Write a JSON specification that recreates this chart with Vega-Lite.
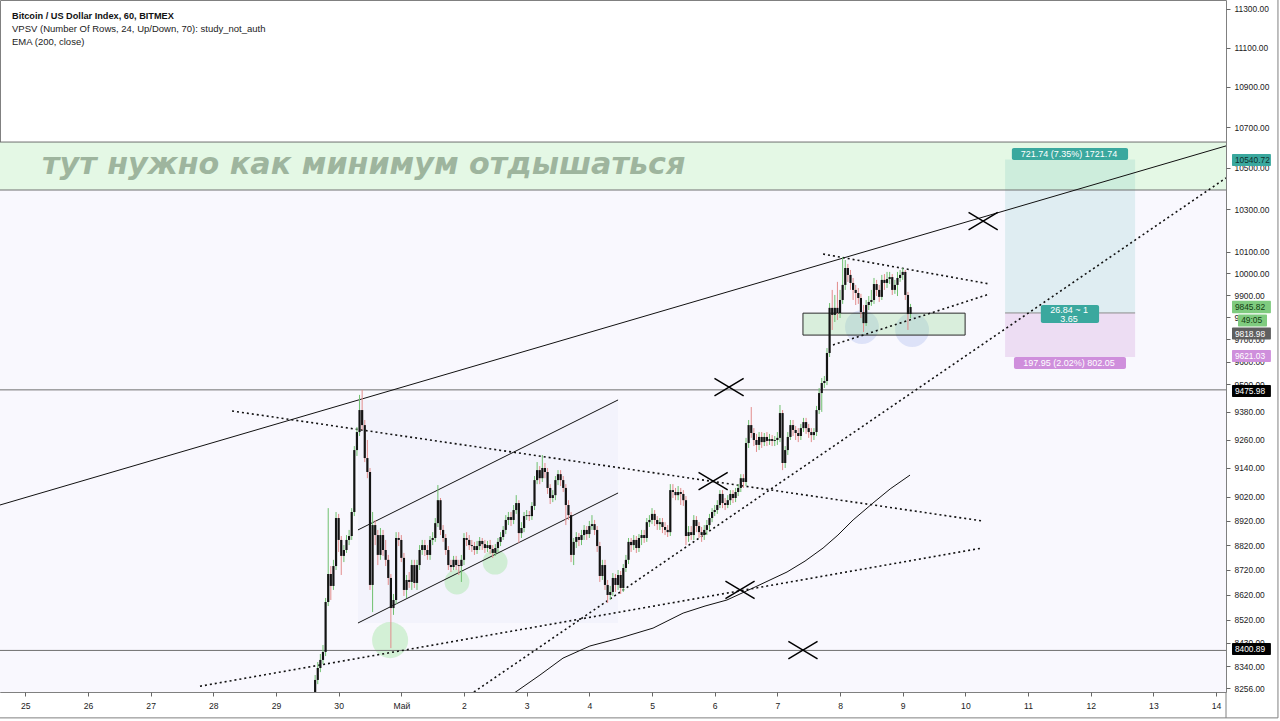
{
"$schema":"https://vega.github.io/schema/vega-lite/v6.json",
"width":1226,"height":692,
"autosize":{"type":"none"},
"padding":{"left":0,"top":0,"right":54,"bottom":29},
"background":"#ffffff",
"config":{"view":{"stroke":"#808080","fill":"#ffffff"}},
"datasets":{
"candles":[
{"t":"2020-04-29T15:00Z","o":8191,"h":8306,"l":8165,"c":8287},
{"t":"2020-04-29T16:00Z","o":8287,"h":8356,"l":8271,"c":8333},
{"t":"2020-04-29T17:00Z","o":8333,"h":8387,"l":8317,"c":8364},
{"t":"2020-04-29T18:00Z","o":8364,"h":8422,"l":8348,"c":8395},
{"t":"2020-04-29T19:00Z","o":8395,"h":8607,"l":8379,"c":8591},
{"t":"2020-04-29T20:00Z","o":8591,"h":8972,"l":8575,"c":8703},
{"t":"2020-04-29T21:00Z","o":8703,"h":8735,"l":8599,"c":8655},
{"t":"2020-04-29T22:00Z","o":8655,"h":8760,"l":8639,"c":8735},
{"t":"2020-04-29T23:00Z","o":8735,"h":8956,"l":8719,"c":8931},
{"t":"2020-04-30T00:00Z","o":8931,"h":8948,"l":8792,"c":8841},
{"t":"2020-04-30T01:00Z","o":8841,"h":8857,"l":8699,"c":8776},
{"t":"2020-04-30T02:00Z","o":8776,"h":8820,"l":8751,"c":8800},
{"t":"2020-04-30T03:00Z","o":8800,"h":8861,"l":8788,"c":8841},
{"t":"2020-04-30T04:00Z","o":8841,"h":8882,"l":8820,"c":8857},
{"t":"2020-04-30T05:00Z","o":8857,"h":8972,"l":8841,"c":8956},
{"t":"2020-04-30T06:00Z","o":8956,"h":9233,"l":8939,"c":9216},
{"t":"2020-04-30T07:00Z","o":9216,"h":9315,"l":9191,"c":9293},
{"t":"2020-04-30T08:00Z","o":9293,"h":9454,"l":9276,"c":9388},
{"t":"2020-04-30T09:00Z","o":9388,"h":9476,"l":9302,"c":9323},
{"t":"2020-04-30T10:00Z","o":9323,"h":9345,"l":9165,"c":9182},
{"t":"2020-04-30T11:00Z","o":9182,"h":9259,"l":9097,"c":9123},
{"t":"2020-04-30T12:00Z","o":9123,"h":9140,"l":8639,"c":8659},
{"t":"2020-04-30T13:00Z","o":8659,"h":8956,"l":8551,"c":8902},
{"t":"2020-04-30T14:00Z","o":8902,"h":8923,"l":8820,"c":8861},
{"t":"2020-04-30T15:00Z","o":8861,"h":8882,"l":8739,"c":8780},
{"t":"2020-04-30T16:00Z","o":8780,"h":8890,"l":8760,"c":8861},
{"t":"2020-04-30T17:00Z","o":8861,"h":8882,"l":8776,"c":8800},
{"t":"2020-04-30T18:00Z","o":8800,"h":8841,"l":8735,"c":8760},
{"t":"2020-04-30T19:00Z","o":8760,"h":8780,"l":8659,"c":8687},
{"t":"2020-04-30T20:00Z","o":8687,"h":8703,"l":8410,"c":8567},
{"t":"2020-04-30T21:00Z","o":8567,"h":8623,"l":8540,"c":8599},
{"t":"2020-04-30T22:00Z","o":8599,"h":8873,"l":8583,"c":8849},
{"t":"2020-04-30T23:00Z","o":8849,"h":8873,"l":8816,"c":8841},
{"t":"2020-05-01T00:00Z","o":8841,"h":8861,"l":8751,"c":8768},
{"t":"2020-05-01T01:00Z","o":8768,"h":8788,"l":8615,"c":8639},
{"t":"2020-05-01T02:00Z","o":8639,"h":8699,"l":8607,"c":8679},
{"t":"2020-05-01T03:00Z","o":8679,"h":8711,"l":8647,"c":8671},
{"t":"2020-05-01T04:00Z","o":8671,"h":8760,"l":8639,"c":8739},
{"t":"2020-05-01T05:00Z","o":8739,"h":8760,"l":8647,"c":8667},
{"t":"2020-05-01T06:00Z","o":8667,"h":8760,"l":8639,"c":8739},
{"t":"2020-05-01T07:00Z","o":8739,"h":8820,"l":8719,"c":8800},
{"t":"2020-05-01T08:00Z","o":8800,"h":8841,"l":8780,"c":8820},
{"t":"2020-05-01T09:00Z","o":8820,"h":8841,"l":8776,"c":8800},
{"t":"2020-05-01T10:00Z","o":8800,"h":8820,"l":8760,"c":8780},
{"t":"2020-05-01T11:00Z","o":8780,"h":8857,"l":8760,"c":8841},
{"t":"2020-05-01T12:00Z","o":8841,"h":8873,"l":8820,"c":8849},
{"t":"2020-05-01T13:00Z","o":8849,"h":8931,"l":8833,"c":8910},
{"t":"2020-05-01T14:00Z","o":8910,"h":9068,"l":8894,"c":9005},
{"t":"2020-05-01T15:00Z","o":9005,"h":9014,"l":8861,"c":8882},
{"t":"2020-05-01T16:00Z","o":8882,"h":8902,"l":8833,"c":8849},
{"t":"2020-05-01T17:00Z","o":8849,"h":8865,"l":8780,"c":8800},
{"t":"2020-05-01T18:00Z","o":8800,"h":8816,"l":8719,"c":8739},
{"t":"2020-05-01T19:00Z","o":8739,"h":8760,"l":8711,"c":8731},
{"t":"2020-05-01T20:00Z","o":8731,"h":8776,"l":8719,"c":8760},
{"t":"2020-05-01T21:00Z","o":8760,"h":8776,"l":8719,"c":8739},
{"t":"2020-05-01T22:00Z","o":8739,"h":8760,"l":8699,"c":8735},
{"t":"2020-05-01T23:00Z","o":8735,"h":8780,"l":8671,"c":8760},
{"t":"2020-05-02T00:00Z","o":8760,"h":8869,"l":8739,"c":8849},
{"t":"2020-05-02T01:00Z","o":8849,"h":8873,"l":8816,"c":8841},
{"t":"2020-05-02T02:00Z","o":8841,"h":8861,"l":8800,"c":8820},
{"t":"2020-05-02T03:00Z","o":8820,"h":8841,"l":8792,"c":8816},
{"t":"2020-05-02T04:00Z","o":8816,"h":8833,"l":8780,"c":8800},
{"t":"2020-05-02T05:00Z","o":8800,"h":8837,"l":8784,"c":8816},
{"t":"2020-05-02T06:00Z","o":8816,"h":8853,"l":8800,"c":8837},
{"t":"2020-05-02T07:00Z","o":8837,"h":8849,"l":8800,"c":8824},
{"t":"2020-05-02T08:00Z","o":8824,"h":8841,"l":8788,"c":8808},
{"t":"2020-05-02T09:00Z","o":8808,"h":8837,"l":8792,"c":8820},
{"t":"2020-05-02T10:00Z","o":8820,"h":8841,"l":8784,"c":8804},
{"t":"2020-05-02T11:00Z","o":8804,"h":8820,"l":8768,"c":8788},
{"t":"2020-05-02T12:00Z","o":8788,"h":8824,"l":8776,"c":8808},
{"t":"2020-05-02T13:00Z","o":8808,"h":8849,"l":8792,"c":8833},
{"t":"2020-05-02T14:00Z","o":8833,"h":8873,"l":8816,"c":8853},
{"t":"2020-05-02T15:00Z","o":8853,"h":8898,"l":8841,"c":8882},
{"t":"2020-05-02T16:00Z","o":8882,"h":8943,"l":8865,"c":8923},
{"t":"2020-05-02T17:00Z","o":8923,"h":8956,"l":8902,"c":8935},
{"t":"2020-05-02T18:00Z","o":8935,"h":8956,"l":8898,"c":8923},
{"t":"2020-05-02T19:00Z","o":8923,"h":8985,"l":8906,"c":8964},
{"t":"2020-05-02T20:00Z","o":8964,"h":9026,"l":8948,"c":8993},
{"t":"2020-05-02T21:00Z","o":8993,"h":9005,"l":8829,"c":8869},
{"t":"2020-05-02T22:00Z","o":8869,"h":8914,"l":8849,"c":8890},
{"t":"2020-05-02T23:00Z","o":8890,"h":8956,"l":8873,"c":8939},
{"t":"2020-05-03T00:00Z","o":8939,"h":8964,"l":8923,"c":8943},
{"t":"2020-05-03T01:00Z","o":8943,"h":8960,"l":8919,"c":8939},
{"t":"2020-05-03T02:00Z","o":8939,"h":8997,"l":8923,"c":8981},
{"t":"2020-05-03T03:00Z","o":8981,"h":9106,"l":8964,"c":9089},
{"t":"2020-05-03T04:00Z","o":9089,"h":9165,"l":9072,"c":9131},
{"t":"2020-05-03T05:00Z","o":9131,"h":9148,"l":9072,"c":9097},
{"t":"2020-05-03T06:00Z","o":9097,"h":9195,"l":9081,"c":9140},
{"t":"2020-05-03T07:00Z","o":9140,"h":9161,"l":9097,"c":9123},
{"t":"2020-05-03T08:00Z","o":9123,"h":9140,"l":9031,"c":9056},
{"t":"2020-05-03T09:00Z","o":9056,"h":9072,"l":8989,"c":9014},
{"t":"2020-05-03T10:00Z","o":9014,"h":9047,"l":8997,"c":9026},
{"t":"2020-05-03T11:00Z","o":9026,"h":9106,"l":9005,"c":9089},
{"t":"2020-05-03T12:00Z","o":9089,"h":9131,"l":9068,"c":9114},
{"t":"2020-05-03T13:00Z","o":9114,"h":9131,"l":9064,"c":9089},
{"t":"2020-05-03T14:00Z","o":9089,"h":9106,"l":9039,"c":9056},
{"t":"2020-05-03T15:00Z","o":9056,"h":9072,"l":8902,"c":8985},
{"t":"2020-05-03T16:00Z","o":8985,"h":9005,"l":8923,"c":8943},
{"t":"2020-05-03T17:00Z","o":8943,"h":8956,"l":8751,"c":8780},
{"t":"2020-05-03T18:00Z","o":8780,"h":8849,"l":8739,"c":8833},
{"t":"2020-05-03T19:00Z","o":8833,"h":8873,"l":8808,"c":8853},
{"t":"2020-05-03T20:00Z","o":8853,"h":8869,"l":8816,"c":8841},
{"t":"2020-05-03T21:00Z","o":8841,"h":8882,"l":8820,"c":8861},
{"t":"2020-05-03T22:00Z","o":8861,"h":8902,"l":8841,"c":8882},
{"t":"2020-05-03T23:00Z","o":8882,"h":8898,"l":8841,"c":8865},
{"t":"2020-05-04T00:00Z","o":8865,"h":8919,"l":8849,"c":8898},
{"t":"2020-05-04T01:00Z","o":8898,"h":8943,"l":8882,"c":8906},
{"t":"2020-05-04T02:00Z","o":8906,"h":8923,"l":8861,"c":8882},
{"t":"2020-05-04T03:00Z","o":8882,"h":8898,"l":8792,"c":8816},
{"t":"2020-05-04T04:00Z","o":8816,"h":8833,"l":8671,"c":8695},
{"t":"2020-05-04T05:00Z","o":8695,"h":8760,"l":8679,"c":8739},
{"t":"2020-05-04T06:00Z","o":8739,"h":8760,"l":8639,"c":8659},
{"t":"2020-05-04T07:00Z","o":8659,"h":8679,"l":8587,"c":8619},
{"t":"2020-05-04T08:00Z","o":8619,"h":8655,"l":8599,"c":8631},
{"t":"2020-05-04T09:00Z","o":8631,"h":8707,"l":8615,"c":8687},
{"t":"2020-05-04T10:00Z","o":8687,"h":8703,"l":8631,"c":8659},
{"t":"2020-05-04T11:00Z","o":8659,"h":8719,"l":8639,"c":8699},
{"t":"2020-05-04T12:00Z","o":8699,"h":8715,"l":8623,"c":8647},
{"t":"2020-05-04T13:00Z","o":8647,"h":8743,"l":8631,"c":8727},
{"t":"2020-05-04T14:00Z","o":8727,"h":8780,"l":8711,"c":8760},
{"t":"2020-05-04T15:00Z","o":8760,"h":8849,"l":8743,"c":8833},
{"t":"2020-05-04T16:00Z","o":8833,"h":8849,"l":8792,"c":8820},
{"t":"2020-05-04T17:00Z","o":8820,"h":8861,"l":8800,"c":8841},
{"t":"2020-05-04T18:00Z","o":8841,"h":8857,"l":8788,"c":8808},
{"t":"2020-05-04T19:00Z","o":8808,"h":8865,"l":8792,"c":8849},
{"t":"2020-05-04T20:00Z","o":8849,"h":8882,"l":8820,"c":8861},
{"t":"2020-05-04T21:00Z","o":8861,"h":8882,"l":8829,"c":8849},
{"t":"2020-05-04T22:00Z","o":8849,"h":8931,"l":8833,"c":8914},
{"t":"2020-05-04T23:00Z","o":8914,"h":8943,"l":8894,"c":8923},
{"t":"2020-05-05T00:00Z","o":8923,"h":8972,"l":8906,"c":8948},
{"t":"2020-05-05T01:00Z","o":8948,"h":8964,"l":8898,"c":8923},
{"t":"2020-05-05T02:00Z","o":8923,"h":8939,"l":8882,"c":8906},
{"t":"2020-05-05T03:00Z","o":8906,"h":8931,"l":8882,"c":8914},
{"t":"2020-05-05T04:00Z","o":8914,"h":8931,"l":8869,"c":8894},
{"t":"2020-05-05T05:00Z","o":8894,"h":8914,"l":8861,"c":8882},
{"t":"2020-05-05T06:00Z","o":8882,"h":8902,"l":8853,"c":8873},
{"t":"2020-05-05T07:00Z","o":8873,"h":9072,"l":8857,"c":9047},
{"t":"2020-05-05T08:00Z","o":9047,"h":9072,"l":9014,"c":9039},
{"t":"2020-05-05T09:00Z","o":9039,"h":9056,"l":9005,"c":9026},
{"t":"2020-05-05T10:00Z","o":9026,"h":9064,"l":9005,"c":9039},
{"t":"2020-05-05T11:00Z","o":9039,"h":9056,"l":8985,"c":9031},
{"t":"2020-05-05T12:00Z","o":9031,"h":9047,"l":8981,"c":9005},
{"t":"2020-05-05T13:00Z","o":9005,"h":9022,"l":8820,"c":8857},
{"t":"2020-05-05T14:00Z","o":8857,"h":8898,"l":8833,"c":8873},
{"t":"2020-05-05T15:00Z","o":8873,"h":8898,"l":8841,"c":8861},
{"t":"2020-05-05T16:00Z","o":8861,"h":8943,"l":8841,"c":8923},
{"t":"2020-05-05T17:00Z","o":8923,"h":8939,"l":8873,"c":8898},
{"t":"2020-05-05T18:00Z","o":8898,"h":8914,"l":8849,"c":8873},
{"t":"2020-05-05T19:00Z","o":8873,"h":8894,"l":8833,"c":8861},
{"t":"2020-05-05T20:00Z","o":8861,"h":8902,"l":8841,"c":8882},
{"t":"2020-05-05T21:00Z","o":8882,"h":8923,"l":8861,"c":8902},
{"t":"2020-05-05T22:00Z","o":8902,"h":8948,"l":8882,"c":8931},
{"t":"2020-05-05T23:00Z","o":8931,"h":8972,"l":8914,"c":8956},
{"t":"2020-05-06T00:00Z","o":8956,"h":8985,"l":8939,"c":8964},
{"t":"2020-05-06T01:00Z","o":8964,"h":9005,"l":8948,"c":8985},
{"t":"2020-05-06T02:00Z","o":8985,"h":9047,"l":8972,"c":9031},
{"t":"2020-05-06T03:00Z","o":9031,"h":9047,"l":8972,"c":8993},
{"t":"2020-05-06T04:00Z","o":8993,"h":9014,"l":8964,"c":8985},
{"t":"2020-05-06T05:00Z","o":8985,"h":9026,"l":8972,"c":9005},
{"t":"2020-05-06T06:00Z","o":9005,"h":9047,"l":8985,"c":9031},
{"t":"2020-05-06T07:00Z","o":9031,"h":9047,"l":8993,"c":9014},
{"t":"2020-05-06T08:00Z","o":9014,"h":9056,"l":8997,"c":9039},
{"t":"2020-05-06T09:00Z","o":9039,"h":9072,"l":9022,"c":9056},
{"t":"2020-05-06T10:00Z","o":9056,"h":9114,"l":9039,"c":9097},
{"t":"2020-05-06T11:00Z","o":9097,"h":9114,"l":9056,"c":9081},
{"t":"2020-05-06T12:00Z","o":9081,"h":9268,"l":9064,"c":9246},
{"t":"2020-05-06T13:00Z","o":9246,"h":9345,"l":9225,"c":9323},
{"t":"2020-05-06T14:00Z","o":9323,"h":9401,"l":9268,"c":9289},
{"t":"2020-05-06T15:00Z","o":9289,"h":9310,"l":9233,"c":9259},
{"t":"2020-05-06T16:00Z","o":9259,"h":9285,"l":9208,"c":9238},
{"t":"2020-05-06T17:00Z","o":9238,"h":9293,"l":9216,"c":9272},
{"t":"2020-05-06T18:00Z","o":9272,"h":9293,"l":9225,"c":9250},
{"t":"2020-05-06T19:00Z","o":9250,"h":9289,"l":9233,"c":9272},
{"t":"2020-05-06T20:00Z","o":9272,"h":9293,"l":9233,"c":9255},
{"t":"2020-05-06T21:00Z","o":9255,"h":9285,"l":9238,"c":9263},
{"t":"2020-05-06T22:00Z","o":9263,"h":9280,"l":9233,"c":9255},
{"t":"2020-05-06T23:00Z","o":9255,"h":9276,"l":9233,"c":9259},
{"t":"2020-05-07T00:00Z","o":9259,"h":9293,"l":9238,"c":9268},
{"t":"2020-05-07T01:00Z","o":9268,"h":9410,"l":9250,"c":9375},
{"t":"2020-05-07T02:00Z","o":9375,"h":9388,"l":9131,"c":9161},
{"t":"2020-05-07T03:00Z","o":9161,"h":9233,"l":9140,"c":9216},
{"t":"2020-05-07T04:00Z","o":9216,"h":9293,"l":9195,"c":9272},
{"t":"2020-05-07T05:00Z","o":9272,"h":9345,"l":9259,"c":9323},
{"t":"2020-05-07T06:00Z","o":9323,"h":9345,"l":9276,"c":9302},
{"t":"2020-05-07T07:00Z","o":9302,"h":9319,"l":9259,"c":9289},
{"t":"2020-05-07T08:00Z","o":9289,"h":9310,"l":9250,"c":9276},
{"t":"2020-05-07T09:00Z","o":9276,"h":9328,"l":9259,"c":9310},
{"t":"2020-05-07T10:00Z","o":9310,"h":9354,"l":9293,"c":9336},
{"t":"2020-05-07T11:00Z","o":9336,"h":9354,"l":9285,"c":9310},
{"t":"2020-05-07T12:00Z","o":9310,"h":9328,"l":9268,"c":9293},
{"t":"2020-05-07T13:00Z","o":9293,"h":9310,"l":9250,"c":9280},
{"t":"2020-05-07T14:00Z","o":9280,"h":9310,"l":9259,"c":9293},
{"t":"2020-05-07T15:00Z","o":9293,"h":9406,"l":9276,"c":9388},
{"t":"2020-05-07T16:00Z","o":9388,"h":9484,"l":9371,"c":9462},
{"t":"2020-05-07T17:00Z","o":9462,"h":9528,"l":9380,"c":9506},
{"t":"2020-05-07T18:00Z","o":9506,"h":9537,"l":9484,"c":9515},
{"t":"2020-05-07T19:00Z","o":9515,"h":9661,"l":9497,"c":9639},
{"t":"2020-05-07T20:00Z","o":9639,"h":9864,"l":9621,"c":9842},
{"t":"2020-05-07T21:00Z","o":9842,"h":9924,"l":9742,"c":9810},
{"t":"2020-05-07T22:00Z","o":9810,"h":9901,"l":9778,"c":9842},
{"t":"2020-05-07T23:00Z","o":9842,"h":9961,"l":9787,"c":9818},
{"t":"2020-05-08T00:00Z","o":9818,"h":9924,"l":9796,"c":9878},
{"t":"2020-05-08T01:00Z","o":9878,"h":10076,"l":9860,"c":9947},
{"t":"2020-05-08T02:00Z","o":9947,"h":10062,"l":9924,"c":10025},
{"t":"2020-05-08T03:00Z","o":10025,"h":10044,"l":9961,"c":9993},
{"t":"2020-05-08T04:00Z","o":9993,"h":10016,"l":9924,"c":9956},
{"t":"2020-05-08T05:00Z","o":9956,"h":9979,"l":9878,"c":9924},
{"t":"2020-05-08T06:00Z","o":9924,"h":9947,"l":9855,"c":9910},
{"t":"2020-05-08T07:00Z","o":9910,"h":9933,"l":9860,"c":9887},
{"t":"2020-05-08T08:00Z","o":9887,"h":9906,"l":9796,"c":9823},
{"t":"2020-05-08T09:00Z","o":9823,"h":9855,"l":9733,"c":9773},
{"t":"2020-05-08T10:00Z","o":9773,"h":9878,"l":9760,"c":9855},
{"t":"2020-05-08T11:00Z","o":9855,"h":9896,"l":9832,"c":9869},
{"t":"2020-05-08T12:00Z","o":9869,"h":9924,"l":9851,"c":9878},
{"t":"2020-05-08T13:00Z","o":9878,"h":9979,"l":9860,"c":9951},
{"t":"2020-05-08T14:00Z","o":9951,"h":9970,"l":9896,"c":9924},
{"t":"2020-05-08T15:00Z","o":9924,"h":9947,"l":9869,"c":9892},
{"t":"2020-05-08T16:00Z","o":9892,"h":9993,"l":9878,"c":9970},
{"t":"2020-05-08T17:00Z","o":9970,"h":9997,"l":9924,"c":9956},
{"t":"2020-05-08T18:00Z","o":9956,"h":10007,"l":9933,"c":9974},
{"t":"2020-05-08T19:00Z","o":9974,"h":10007,"l":9951,"c":9983},
{"t":"2020-05-08T20:00Z","o":9983,"h":9997,"l":9901,"c":9924},
{"t":"2020-05-08T21:00Z","o":9924,"h":9970,"l":9906,"c":9947},
{"t":"2020-05-08T22:00Z","o":9947,"h":10007,"l":9896,"c":9979},
{"t":"2020-05-08T23:00Z","o":9979,"h":10016,"l":9961,"c":9993},
{"t":"2020-05-09T00:00Z","o":9993,"h":10025,"l":9970,"c":10007},
{"t":"2020-05-09T01:00Z","o":10007,"h":10016,"l":9878,"c":9901},
{"t":"2020-05-09T02:00Z","o":9901,"h":9915,"l":9742,"c":9814},
{"t":"2020-05-09T03:00Z","o":9814,"h":9860,"l":9796,"c":9845.82}
]},
"encoding":{
"x":{"field":"t","type":"temporal","title":null,
"scale":{"type":"utc","domain":[{"year":2020,"month":4,"date":24,"hours":14,"minutes":19,"utc":true},{"year":2020,"month":5,"date":14,"hours":3,"minutes":48,"utc":true}]},
"axis":{"title":null,"tickCount":{"interval":"day","step":1},"labelExpr":"utcdate(datum.value) == 1 ? 'Май' : '' + utcdate(datum.value)","labelFont":"Liberation Sans","labelFontSize":8.6,"labelColor":"#222222","tickSize":4,"tickColor":"#666666","labelPadding":5,"domain":false,"grid":false,"labelFlush":false}}
},
"layer":[
{"data":{"values":[{"t":"2020-04-24T14:19Z","t2":"2020-05-14T03:48Z","p":8241,"p2":10393}],"format":{"parse":{"t":"date","t2":"date"}}},
 "mark":{"type":"rect","fill":"#f9f8fe","clip":true},
 "encoding":{"x2":{"field":"t2"},"y":{"field":"p","type":"quantitative","scale":{"type":"log","domain":[8241,11347],"nice":false},"axis":{"orient":"right","title":null,"values":[8256,8340,8430,8520,8620,8720,8820,8920,9020,9140,9260,9380,9500,9600,9700,9800,9900,10000,10100,10300,10500,10700,10900,11100,11300],"format":".2f","labelFont":"Liberation Sans","labelFontSize":8.4,"labelColor":"#222222","tickSize":4,"tickColor":"#666666","labelPadding":4,"domain":false,"grid":false,"labelFlush":false,"labelOverlap":false}},"y2":{"field":"p2"}}},
{"data":{"values":[{"t":"2020-04-24T14:19Z","t2":"2020-05-14T03:48Z","p":10393,"p2":10626}],"format":{"parse":{"t":"date","t2":"date"}}},
 "mark":{"type":"rect","fill":"#e4f8e5","clip":true},
 "encoding":{"x2":{"field":"t2"},"y":{"field":"p","type":"quantitative","scale":{"type":"log","domain":[8241,11347],"nice":false},"axis":{"orient":"right","title":null,"values":[8256,8340,8430,8520,8620,8720,8820,8920,9020,9140,9260,9380,9500,9600,9700,9800,9900,10000,10100,10300,10500,10700,10900,11100,11300],"format":".2f","labelFont":"Liberation Sans","labelFontSize":8.4,"labelColor":"#222222","tickSize":4,"tickColor":"#666666","labelPadding":4,"domain":false,"grid":false,"labelFlush":false,"labelOverlap":false}},"y2":{"field":"p2"}}},
{"data":{"values":[{"t":"2020-05-10T15:12Z","t2":"2020-05-12T17:00Z","p":9818.98,"p2":10540.72}],"format":{"parse":{"t":"date","t2":"date"}}},
 "mark":{"type":"rect","fill":"#26a69a","fillOpacity":0.12,"clip":true},
 "encoding":{"x2":{"field":"t2"},"y":{"field":"p","type":"quantitative","scale":{"type":"log","domain":[8241,11347],"nice":false},"axis":{"orient":"right","title":null,"values":[8256,8340,8430,8520,8620,8720,8820,8920,9020,9140,9260,9380,9500,9600,9700,9800,9900,10000,10100,10300,10500,10700,10900,11100,11300],"format":".2f","labelFont":"Liberation Sans","labelFontSize":8.4,"labelColor":"#222222","tickSize":4,"tickColor":"#666666","labelPadding":4,"domain":false,"grid":false,"labelFlush":false,"labelOverlap":false}},"y2":{"field":"p2"}}},
{"data":{"values":[{"t":"2020-05-10T15:12Z","t2":"2020-05-12T17:00Z","p":9621.03,"p2":9818.98}],"format":{"parse":{"t":"date","t2":"date"}}},
 "mark":{"type":"rect","fill":"#ce93d8","fillOpacity":0.27,"clip":true},
 "encoding":{"x2":{"field":"t2"},"y":{"field":"p","type":"quantitative","scale":{"type":"log","domain":[8241,11347],"nice":false},"axis":{"orient":"right","title":null,"values":[8256,8340,8430,8520,8620,8720,8820,8920,9020,9140,9260,9380,9500,9600,9700,9800,9900,10000,10100,10300,10500,10700,10900,11100,11300],"format":".2f","labelFont":"Liberation Sans","labelFontSize":8.4,"labelColor":"#222222","tickSize":4,"tickColor":"#666666","labelPadding":4,"domain":false,"grid":false,"labelFlush":false,"labelOverlap":false}},"y2":{"field":"p2"}}},
{"data":{"values":[{"t":"2020-04-30T07:24Z","t2":"2020-05-04T11:00Z","p":8508,"p2":9432}],"format":{"parse":{"t":"date","t2":"date"}}},
 "mark":{"type":"rect","fill":"#7986cb","fillOpacity":0.045,"clip":true},
 "encoding":{"x2":{"field":"t2"},"y":{"field":"p","type":"quantitative","scale":{"type":"log","domain":[8241,11347],"nice":false},"axis":{"orient":"right","title":null,"values":[8256,8340,8430,8520,8620,8720,8820,8920,9020,9140,9260,9380,9500,9600,9700,9800,9900,10000,10100,10300,10500,10700,10900,11100,11300],"format":".2f","labelFont":"Liberation Sans","labelFontSize":8.4,"labelColor":"#222222","tickSize":4,"tickColor":"#666666","labelPadding":4,"domain":false,"grid":false,"labelFlush":false,"labelOverlap":false}},"y2":{"field":"p2"}}},
{"data":{"values":[{"t":"2020-04-30T19:42Z","p":8441}]},
 "mark":{"type":"point","filled":true,"shape":"circle","fill":"#9be39b","opacity":0.4,"size":1300,"strokeWidth":0,"clip":true},
 "encoding":{"y":{"field":"p","type":"quantitative","scale":{"type":"log","domain":[8241,11347],"nice":false},"axis":{"orient":"right","title":null,"values":[8256,8340,8430,8520,8620,8720,8820,8920,9020,9140,9260,9380,9500,9600,9700,9800,9900,10000,10100,10300,10500,10700,10900,11100,11300],"format":".2f","labelFont":"Liberation Sans","labelFontSize":8.4,"labelColor":"#222222","tickSize":4,"tickColor":"#666666","labelPadding":4,"domain":false,"grid":false,"labelFlush":false,"labelOverlap":false}}}},
{"data":{"values":[{"t":"2020-05-01T21:18Z","p":8671},{"t":"2020-05-02T11:54Z","p":8751}]},
 "mark":{"type":"point","filled":true,"shape":"circle","fill":"#9be39b","opacity":0.4,"size":620,"strokeWidth":0,"clip":true},
 "encoding":{"y":{"field":"p","type":"quantitative","scale":{"type":"log","domain":[8241,11347],"nice":false},"axis":{"orient":"right","title":null,"values":[8256,8340,8430,8520,8620,8720,8820,8920,9020,9140,9260,9380,9500,9600,9700,9800,9900,10000,10100,10300,10500,10700,10900,11100,11300],"format":".2f","labelFont":"Liberation Sans","labelFontSize":8.4,"labelColor":"#222222","tickSize":4,"tickColor":"#666666","labelPadding":4,"domain":false,"grid":false,"labelFlush":false,"labelOverlap":false}}}},
{"data":{"values":[{"t":"2020-05-08T08:24Z","p":9755},{"t":"2020-05-09T03:36Z","p":9742}]},
 "mark":{"type":"point","filled":true,"shape":"circle","fill":"#a9b9ee","opacity":0.35,"size":1150,"strokeWidth":0,"clip":true},
 "encoding":{"y":{"field":"p","type":"quantitative","scale":{"type":"log","domain":[8241,11347],"nice":false},"axis":{"orient":"right","title":null,"values":[8256,8340,8430,8520,8620,8720,8820,8920,9020,9140,9260,9380,9500,9600,9700,9800,9900,10000,10100,10300,10500,10700,10900,11100,11300],"format":".2f","labelFont":"Liberation Sans","labelFontSize":8.4,"labelColor":"#222222","tickSize":4,"tickColor":"#666666","labelPadding":4,"domain":false,"grid":false,"labelFlush":false,"labelOverlap":false}}}},
{"data":{"values":[{"t":"2020-05-07T09:48Z","t2":"2020-05-09T23:54Z","p":9719,"p2":9818}],"format":{"parse":{"t":"date","t2":"date"}}},
 "mark":{"type":"rect","fill":"#8fd68f","fillOpacity":0.3,"stroke":"#2a2a2a","strokeWidth":1,"clip":true},
 "encoding":{"x2":{"field":"t2"},"y":{"field":"p","type":"quantitative","scale":{"type":"log","domain":[8241,11347],"nice":false},"axis":{"orient":"right","title":null,"values":[8256,8340,8430,8520,8620,8720,8820,8920,9020,9140,9260,9380,9500,9600,9700,9800,9900,10000,10100,10300,10500,10700,10900,11100,11300],"format":".2f","labelFont":"Liberation Sans","labelFontSize":8.4,"labelColor":"#222222","tickSize":4,"tickColor":"#666666","labelPadding":4,"domain":false,"grid":false,"labelFlush":false,"labelOverlap":false}},"y2":{"field":"p2"}}},
{"data":{"values":[
 {"t":"2020-04-24T14:19Z","t2":"2020-05-14T03:48Z","p":9475.98},
 {"t":"2020-04-24T14:19Z","t2":"2020-05-14T03:48Z","p":8400.89},
 {"t":"2020-04-24T14:19Z","t2":"2020-05-14T03:48Z","p":10393},
 {"t":"2020-04-24T14:19Z","t2":"2020-05-14T03:48Z","p":10626}],"format":{"parse":{"t":"date","t2":"date"}}},
 "mark":{"type":"rule","color":"#707070","strokeWidth":1,"clip":true},
 "encoding":{"x2":{"field":"t2"},"y":{"field":"p","type":"quantitative","scale":{"type":"log","domain":[8241,11347],"nice":false},"axis":{"orient":"right","title":null,"values":[8256,8340,8430,8520,8620,8720,8820,8920,9020,9140,9260,9380,9500,9600,9700,9800,9900,10000,10100,10300,10500,10700,10900,11100,11300],"format":".2f","labelFont":"Liberation Sans","labelFontSize":8.4,"labelColor":"#222222","tickSize":4,"tickColor":"#666666","labelPadding":4,"domain":false,"grid":false,"labelFlush":false,"labelOverlap":false}}}},
{"data":{"values":[
 {"t":"2020-04-24T14:19Z","t2":"2020-05-14T23:42Z","p":8143},
 {"t":"2020-05-14T03:48Z","t2":"2020-05-14T03:48Z","p":8143,"p2":8241},
 {"t":"2020-05-14T23:42Z","t2":"2020-05-14T23:42Z","p":8143,"p2":11347}],"format":{"parse":{"t":"date","t2":"date"}}},
 "mark":{"type":"rule","color":"#808080","strokeWidth":1,"clip":false},
 "encoding":{"x2":{"field":"t2"},"y":{"field":"p","type":"quantitative","scale":{"type":"log","domain":[8241,11347],"nice":false},"axis":{"orient":"right","title":null,"values":[8256,8340,8430,8520,8620,8720,8820,8920,9020,9140,9260,9380,9500,9600,9700,9800,9900,10000,10100,10300,10500,10700,10900,11100,11300],"format":".2f","labelFont":"Liberation Sans","labelFontSize":8.4,"labelColor":"#222222","tickSize":4,"tickColor":"#666666","labelPadding":4,"domain":false,"grid":false,"labelFlush":false,"labelOverlap":false}},"y2":{"field":"p2"}}},
{"data":{"values":[{"t":"2020-05-10T15:12Z","t2":"2020-05-12T17:00Z","p":9818.98}],"format":{"parse":{"t":"date","t2":"date"}}},
 "mark":{"type":"rule","color":"#8c8c8c","strokeWidth":1,"clip":true},
 "encoding":{"x2":{"field":"t2"},"y":{"field":"p","type":"quantitative","scale":{"type":"log","domain":[8241,11347],"nice":false},"axis":{"orient":"right","title":null,"values":[8256,8340,8430,8520,8620,8720,8820,8920,9020,9140,9260,9380,9500,9600,9700,9800,9900,10000,10100,10300,10500,10700,10900,11100,11300],"format":".2f","labelFont":"Liberation Sans","labelFontSize":8.4,"labelColor":"#222222","tickSize":4,"tickColor":"#666666","labelPadding":4,"domain":false,"grid":false,"labelFlush":false,"labelOverlap":false}}}},
{"data":{"values":[
 {"id":"trend","t":"2020-04-24T14:19Z","p":8985},{"id":"trend","t":"2020-05-14T03:48Z","p":10607},
 {"id":"chu","t":"2020-04-30T07:24Z","p":8882},{"id":"chu","t":"2020-05-04T11:00Z","p":9432},
 {"id":"chl","t":"2020-04-30T07:24Z","p":8508},{"id":"chl","t":"2020-05-04T11:00Z","p":9035}]},
 "mark":{"type":"line","color":"#111111","strokeWidth":1,"clip":true},
 "encoding":{"detail":{"field":"id"},"y":{"field":"p","type":"quantitative","scale":{"type":"log","domain":[8241,11347],"nice":false},"axis":{"orient":"right","title":null,"values":[8256,8340,8430,8520,8620,8720,8820,8920,9020,9140,9260,9380,9500,9600,9700,9800,9900,10000,10100,10300,10500,10700,10900,11100,11300],"format":".2f","labelFont":"Liberation Sans","labelFontSize":8.4,"labelColor":"#222222","tickSize":4,"tickColor":"#666666","labelPadding":4,"domain":false,"grid":false,"labelFlush":false,"labelOverlap":false}}}},
{"data":{"values":[
 {"id":"d1","t":"2020-04-28T07:10Z","p":9384},{"id":"d1","t":"2020-05-10T06:24Z","p":8919},
 {"id":"d2","t":"2020-04-27T18:54Z","p":8263},{"id":"d2","t":"2020-05-10T06:24Z","p":8808},
 {"id":"d3","t":"2020-05-02T03:48Z","p":8241},{"id":"d3","t":"2020-05-14T03:48Z","p":10451},
 {"id":"d4","t":"2020-05-07T17:30Z","p":10090},{"id":"d4","t":"2020-05-10T09:24Z","p":9951},
 {"id":"d5","t":"2020-05-07T21:18Z","p":9675},{"id":"d5","t":"2020-05-10T09:24Z","p":9906}]},
 "mark":{"type":"line","color":"#111111","strokeWidth":1.6,"strokeDash":[2,3],"clip":true},
 "encoding":{"detail":{"field":"id"},"y":{"field":"p","type":"quantitative","scale":{"type":"log","domain":[8241,11347],"nice":false},"axis":{"orient":"right","title":null,"values":[8256,8340,8430,8520,8620,8720,8820,8920,9020,9140,9260,9380,9500,9600,9700,9800,9900,10000,10100,10300,10500,10700,10900,11100,11300],"format":".2f","labelFont":"Liberation Sans","labelFontSize":8.4,"labelColor":"#222222","tickSize":4,"tickColor":"#666666","labelPadding":4,"domain":false,"grid":false,"labelFlush":false,"labelOverlap":false}}}},
{"data":{"values":[
 {"t":"2020-05-02T17:36Z","p":8226},{"t":"2020-05-03T05:06Z","p":8306},{"t":"2020-05-03T13:54Z","p":8371},
 {"t":"2020-05-04T00:12Z","p":8418},{"t":"2020-05-04T11:42Z","p":8449},{"t":"2020-05-05T00:24Z","p":8488},
 {"t":"2020-05-05T11:54Z","p":8547},{"t":"2020-05-05T20:18Z","p":8575},{"t":"2020-05-06T04:42Z","p":8599},
 {"t":"2020-05-06T14:42Z","p":8647},{"t":"2020-05-07T03:42Z","p":8711},{"t":"2020-05-07T10:36Z","p":8755},
 {"t":"2020-05-07T17:30Z","p":8808},{"t":"2020-05-07T23:12Z","p":8861},{"t":"2020-05-08T05:00Z","p":8923},
 {"t":"2020-05-08T12:36Z","p":8993},{"t":"2020-05-08T19:12Z","p":9052},{"t":"2020-05-09T02:48Z","p":9110}]},
 "mark":{"type":"line","color":"#111111","strokeWidth":1,"clip":true},
 "encoding":{"y":{"field":"p","type":"quantitative","scale":{"type":"log","domain":[8241,11347],"nice":false},"axis":{"orient":"right","title":null,"values":[8256,8340,8430,8520,8620,8720,8820,8920,9020,9140,9260,9380,9500,9600,9700,9800,9900,10000,10100,10300,10500,10700,10900,11100,11300],"format":".2f","labelFont":"Liberation Sans","labelFontSize":8.4,"labelColor":"#222222","tickSize":4,"tickColor":"#666666","labelPadding":4,"domain":false,"grid":false,"labelFlush":false,"labelOverlap":false}}}},
{"data":{"name":"candles"},
 "mark":{"type":"rule","strokeWidth":1,"clip":true},
 "encoding":{"y":{"field":"l","type":"quantitative","scale":{"type":"log","domain":[8241,11347],"nice":false},"axis":{"orient":"right","title":null,"values":[8256,8340,8430,8520,8620,8720,8820,8920,9020,9140,9260,9380,9500,9600,9700,9800,9900,10000,10100,10300,10500,10700,10900,11100,11300],"format":".2f","labelFont":"Liberation Sans","labelFontSize":8.4,"labelColor":"#222222","tickSize":4,"tickColor":"#666666","labelPadding":4,"domain":false,"grid":false,"labelFlush":false,"labelOverlap":false}},
  "y2":{"field":"h"},
  "color":{"condition":{"test":"datum.c >= datum.o","value":"#6fc06f"},"value":"#e28c8c"}}},
{"data":{"name":"candles"},
 "mark":{"type":"rule","strokeWidth":2.2,"color":"#141414","clip":true},
 "encoding":{"y":{"field":"o","type":"quantitative","scale":{"type":"log","domain":[8241,11347],"nice":false},"axis":{"orient":"right","title":null,"values":[8256,8340,8430,8520,8620,8720,8820,8920,9020,9140,9260,9380,9500,9600,9700,9800,9900,10000,10100,10300,10500,10700,10900,11100,11300],"format":".2f","labelFont":"Liberation Sans","labelFontSize":8.4,"labelColor":"#222222","tickSize":4,"tickColor":"#666666","labelPadding":4,"domain":false,"grid":false,"labelFlush":false,"labelOverlap":false}},"y2":{"field":"c"}}},
{"data":{"values":[{"t":"2020-05-06T05:30Z","p":9488},{"t":"2020-05-10T06:48Z","p":10245},{"t":"2020-05-05T23:24Z","p":9085},{"t":"2020-05-06T09:42Z","p":8639},{"t":"2020-05-07T09:48Z","p":8402}]},
 "mark":{"type":"point","shape":"M-1,-0.6L1,0.6M-1,0.6L1,-0.6","filled":false,"stroke":"#000000","strokeWidth":1.5,"size":850,"opacity":1,"clip":true},
 "encoding":{"y":{"field":"p","type":"quantitative","scale":{"type":"log","domain":[8241,11347],"nice":false},"axis":{"orient":"right","title":null,"values":[8256,8340,8430,8520,8620,8720,8820,8920,9020,9140,9260,9380,9500,9600,9700,9800,9900,10000,10100,10300,10500,10700,10900,11100,11300],"format":".2f","labelFont":"Liberation Sans","labelFontSize":8.4,"labelColor":"#222222","tickSize":4,"tickColor":"#666666","labelPadding":4,"domain":false,"grid":false,"labelFlush":false,"labelOverlap":false}}}},
{"data":{"values":[{"t":"2020-04-25T06:24Z","p":10514,"s":"тут нужно как минимум отдышаться"}]},
 "mark":{"type":"text","align":"left","baseline":"middle","font":"DejaVu Sans","fontSize":30.2,"fontWeight":"bold","fontStyle":"italic","color":"#9eb59e"},
 "encoding":{"text":{"field":"s"},"y":{"field":"p","type":"quantitative","scale":{"type":"log","domain":[8241,11347],"nice":false},"axis":{"orient":"right","title":null,"values":[8256,8340,8430,8520,8620,8720,8820,8920,9020,9140,9260,9380,9500,9600,9700,9800,9900,10000,10100,10300,10500,10700,10900,11100,11300],"format":".2f","labelFont":"Liberation Sans","labelFontSize":8.4,"labelColor":"#222222","tickSize":4,"tickColor":"#666666","labelPadding":4,"domain":false,"grid":false,"labelFlush":false,"labelOverlap":false}}}},
{"data":{"values":[{"t":"2020-04-24T18:55Z","p":11263,"s":"Bitcoin / US Dollar Index, 60, BITMEX"}]},
 "mark":{"type":"text","align":"left","baseline":"middle","font":"Liberation Sans","fontSize":9.2,"fontWeight":"bold","color":"#111111"},
 "encoding":{"text":{"field":"s"},"y":{"field":"p","type":"quantitative","scale":{"type":"log","domain":[8241,11347],"nice":false},"axis":{"orient":"right","title":null,"values":[8256,8340,8430,8520,8620,8720,8820,8920,9020,9140,9260,9380,9500,9600,9700,9800,9900,10000,10100,10300,10500,10700,10900,11100,11300],"format":".2f","labelFont":"Liberation Sans","labelFontSize":8.4,"labelColor":"#222222","tickSize":4,"tickColor":"#666666","labelPadding":4,"domain":false,"grid":false,"labelFlush":false,"labelOverlap":false}}}},
{"data":{"values":[{"t":"2020-04-24T18:55Z","p":11196,"s":"VPSV (Number Of Rows, 24, Up/Down, 70): study_not_auth"},{"t":"2020-04-24T18:55Z","p":11129,"s":"EMA (200, close)"}]},
 "mark":{"type":"text","align":"left","baseline":"middle","font":"Liberation Sans","fontSize":9.5,"color":"#222222"},
 "encoding":{"text":{"field":"s"},"y":{"field":"p","type":"quantitative","scale":{"type":"log","domain":[8241,11347],"nice":false},"axis":{"orient":"right","title":null,"values":[8256,8340,8430,8520,8620,8720,8820,8920,9020,9140,9260,9380,9500,9600,9700,9800,9900,10000,10100,10300,10500,10700,10900,11100,11300],"format":".2f","labelFont":"Liberation Sans","labelFontSize":8.4,"labelColor":"#222222","tickSize":4,"tickColor":"#666666","labelPadding":4,"domain":false,"grid":false,"labelFlush":false,"labelOverlap":false}}}},
{"data":{"values":[
 {"t":"2020-05-10T17:48Z","t2":"2020-05-12T14:18Z","p":10538,"p2":10597,"k":"tp"},
 {"t":"2020-05-11T04:54Z","t2":"2020-05-12T03:12Z","p":9773,"p2":9855,"k":"tp"},
 {"t":"2020-05-10T18:36Z","t2":"2020-05-12T13:30Z","p":9568,"p2":9621,"k":"sl"}],"format":{"parse":{"t":"date","t2":"date"}}},
 "mark":{"type":"rect","cornerRadius":2,"clip":false},
 "encoding":{"x2":{"field":"t2"},"y":{"field":"p","type":"quantitative","scale":{"type":"log","domain":[8241,11347],"nice":false},"axis":{"orient":"right","title":null,"values":[8256,8340,8430,8520,8620,8720,8820,8920,9020,9140,9260,9380,9500,9600,9700,9800,9900,10000,10100,10300,10500,10700,10900,11100,11300],"format":".2f","labelFont":"Liberation Sans","labelFontSize":8.4,"labelColor":"#222222","tickSize":4,"tickColor":"#666666","labelPadding":4,"domain":false,"grid":false,"labelFlush":false,"labelOverlap":false}},"y2":{"field":"p2"},
  "fill":{"field":"k","type":"nominal","legend":null,"scale":{"domain":["tp","last","cd","en","sl","hl"],"range":["#3aa89e","#7fcb7f","#7fcb7f","#5f5f5f","#cf8fdc","#000000"]}}}},
{"data":{"values":[
 {"t":"2020-05-11T15:42Z","p":10567,"s":"721.74 (7.35%) 1721.74"},
 {"t":"2020-05-11T15:42Z","p":9832,"s":"26.84 ~ 1"},
 {"t":"2020-05-11T15:42Z","p":9791,"s":"3.65"},
 {"t":"2020-05-11T15:42Z","p":9594,"s":"197.95 (2.02%) 802.05"}]},
 "mark":{"type":"text","align":"center","baseline":"middle","font":"Liberation Sans","fontSize":9,"color":"#ffffff"},
 "encoding":{"text":{"field":"s"},"y":{"field":"p","type":"quantitative","scale":{"type":"log","domain":[8241,11347],"nice":false},"axis":{"orient":"right","title":null,"values":[8256,8340,8430,8520,8620,8720,8820,8920,9020,9140,9260,9380,9500,9600,9700,9800,9900,10000,10100,10300,10500,10700,10900,11100,11300],"format":".2f","labelFont":"Liberation Sans","labelFontSize":8.4,"labelColor":"#222222","tickSize":4,"tickColor":"#666666","labelPadding":4,"domain":false,"grid":false,"labelFlush":false,"labelOverlap":false}}}},
{"data":{"values":[
 {"t":"2020-05-14T06:06Z","t2":"2020-05-14T21:00Z","p":10509,"p2":10567,"k":"tp"},
 {"t":"2020-05-14T06:06Z","t2":"2020-05-14T21:00Z","p":9818,"p2":9874,"k":"last"},
 {"t":"2020-05-14T08:24Z","t2":"2020-05-14T19:30Z","p":9758,"p2":9812,"k":"cd"},
 {"t":"2020-05-14T06:06Z","t2":"2020-05-14T21:00Z","p":9699,"p2":9753,"k":"en"},
 {"t":"2020-05-14T06:06Z","t2":"2020-05-14T21:00Z","p":9599,"p2":9652,"k":"sl"},
 {"t":"2020-05-14T06:06Z","t2":"2020-05-14T21:00Z","p":9445,"p2":9497,"k":"hl"},
 {"t":"2020-05-14T06:06Z","t2":"2020-05-14T21:00Z","p":8383,"p2":8430,"k":"hl"}],"format":{"parse":{"t":"date","t2":"date"}}},
 "mark":{"type":"rect","cornerRadius":1,"clip":false},
 "encoding":{"x2":{"field":"t2"},"y":{"field":"p","type":"quantitative","scale":{"type":"log","domain":[8241,11347],"nice":false},"axis":{"orient":"right","title":null,"values":[8256,8340,8430,8520,8620,8720,8820,8920,9020,9140,9260,9380,9500,9600,9700,9800,9900,10000,10100,10300,10500,10700,10900,11100,11300],"format":".2f","labelFont":"Liberation Sans","labelFontSize":8.4,"labelColor":"#222222","tickSize":4,"tickColor":"#666666","labelPadding":4,"domain":false,"grid":false,"labelFlush":false,"labelOverlap":false}},"y2":{"field":"p2"},
  "fill":{"field":"k","type":"nominal","legend":null,"scale":{"domain":["tp","last","cd","en","sl","hl"],"range":["#3aa89e","#7fcb7f","#7fcb7f","#5f5f5f","#cf8fdc","#000000"]}}}},
{"data":{"values":[
 {"t":"2020-05-14T07:12Z","p":10538,"s":"10540.72","k":"tp"},
 {"t":"2020-05-14T07:12Z","p":9846,"s":"9845.82","k":"last"},
 {"t":"2020-05-14T09:36Z","p":9785,"s":"49:05","k":"cd"},
 {"t":"2020-05-14T07:12Z","p":9726,"s":"9818.98","k":"en"},
 {"t":"2020-05-14T07:12Z","p":9626,"s":"9621.03","k":"sl"},
 {"t":"2020-05-14T07:12Z","p":9471,"s":"9475.98","k":"hl"},
 {"t":"2020-05-14T07:12Z","p":8406,"s":"8400.89","k":"hl"}]},
 "mark":{"type":"text","align":"left","baseline":"middle","font":"Liberation Sans","fontSize":8.4,"clip":false},
 "encoding":{"text":{"field":"s"},"y":{"field":"p","type":"quantitative","scale":{"type":"log","domain":[8241,11347],"nice":false},"axis":{"orient":"right","title":null,"values":[8256,8340,8430,8520,8620,8720,8820,8920,9020,9140,9260,9380,9500,9600,9700,9800,9900,10000,10100,10300,10500,10700,10900,11100,11300],"format":".2f","labelFont":"Liberation Sans","labelFontSize":8.4,"labelColor":"#222222","tickSize":4,"tickColor":"#666666","labelPadding":4,"domain":false,"grid":false,"labelFlush":false,"labelOverlap":false}},
  "color":{"field":"k","type":"nominal","legend":null,"scale":{"domain":["tp","last","cd","en","sl","hl"],"range":["#0f2f2c","#133d13","#133d13","#ffffff","#ffffff","#ffffff"]}}}}
]
}
